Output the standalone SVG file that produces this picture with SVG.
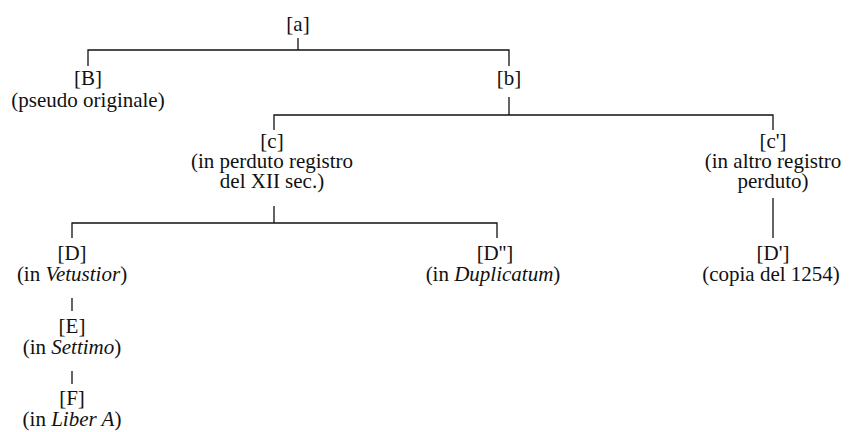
<svg xmlns="http://www.w3.org/2000/svg" width="852" height="432" viewBox="0 0 852 432">
<style>
text{font-family:'Liberation Serif',serif;font-size:21px;fill:#111;text-anchor:middle}
.i{font-style:italic}
#connectors path{fill:none;stroke:#111;stroke-width:1.3}
</style>
<rect width="852" height="432" fill="#fff"/>
<g id="connectors">
<path d="M298 38V50M88 66V50H509V66"/>
<path d="M509 97V115M274 130V115H773V130"/>
<path d="M274 206V223M72 238V223H497V238"/>
<path d="M773 198V238"/>
<path d="M72 298V311"/>
<path d="M72 371V384"/>
</g>
<g id="node-a"><text x="298" y="31">[a]</text></g>
<g id="node-B"><text x="88" y="85">[B]</text><text x="88" y="107">(pseudo originale)</text></g>
<g id="node-b"><text x="509" y="85">[b]</text></g>
<g id="node-c"><text x="272" y="148">[c]</text><text x="272" y="168">(in perduto registro</text><text x="272" y="188">del XII sec.)</text></g>
<g id="node-c2"><text x="773" y="148">[c']</text><text x="773" y="168">(in altro registro</text><text x="773" y="188">perduto)</text></g>
<g id="node-D"><text x="72" y="260">[D]</text><text x="72" y="281">(in <tspan class="i">Vetustior</tspan>)</text></g>
<g id="node-D2"><text x="495" y="260">[D'']</text><text x="493" y="281">(in <tspan class="i">Duplicatum</tspan>)</text></g>
<g id="node-D1"><text x="773" y="260">[D']</text><text x="771" y="281">(copia del 1254)</text></g>
<g id="node-E"><text x="72" y="333">[E]</text><text x="72" y="354">(in <tspan class="i">Settimo</tspan>)</text></g>
<g id="node-F"><text x="72" y="405">[F]</text><text x="72" y="426">(in <tspan class="i">Liber A</tspan>)</text></g>
</svg>
